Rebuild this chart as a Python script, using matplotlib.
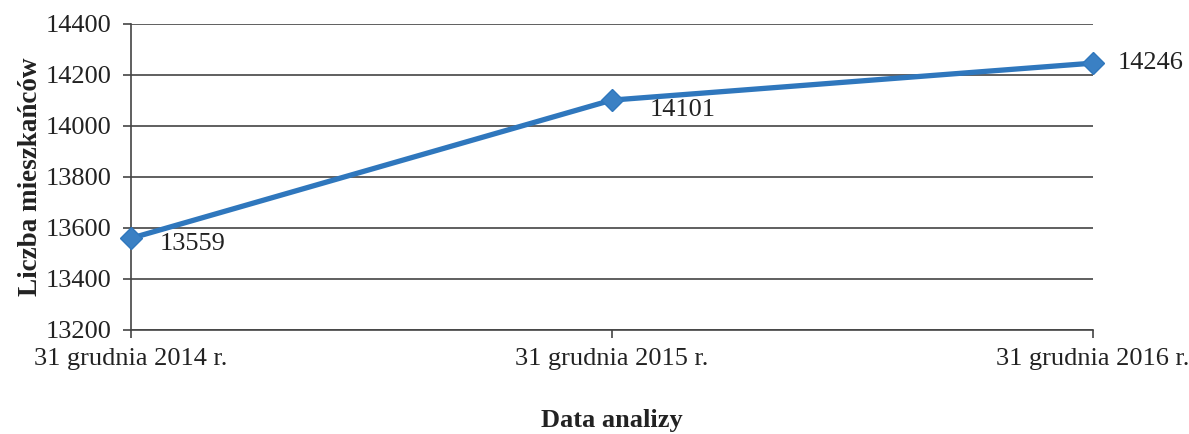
import matplotlib.pyplot as plt

dates = ["31 grudnia 2014 r.", "31 grudnia 2015 r.", "31 grudnia 2016 r."]
residents = [13559, 14101, 14246]
y_ticks = [13200, 13400, 13600, 13800, 14000, 14200, 14400]

plt.rcParams['font.family'] = ['Liberation Serif', 'DejaVu Serif']

fig = plt.figure(figsize=(11.89, 4.34), dpi=100)
ax = fig.add_axes([0.110, 0.240, 0.809, 0.705])

x = list(range(len(dates)))
ax.plot(x, residents, color="#2f77bd", linewidth=3.8, marker="D",
        markersize=11, markerfacecolor="#3a80c4", markeredgecolor="#2f77bd",
        zorder=3, clip_on=False)

# label offsets in points (right of the point, a bit below)
offsets = [(21, -4), (27, -7), (18, 0)]
for xi, v, off in zip(x, residents, offsets):
    ax.annotate(str(v), (xi, v), xytext=off, textcoords="offset points",
                ha="left", va="center", fontsize=19, color="#222222")

ax.set_xlim(0, 2)
ax.set_ylim(13200, 14400)
ax.set_yticks(y_ticks)
ax.set_xticks(x)
ax.set_xticklabels(dates)
ax.yaxis.grid(True, color="#444444", linewidth=1.2)
ax.set_axisbelow(True)

for s in ["top", "right"]:
    ax.spines[s].set_visible(False)
ax.spines["left"].set_color("#444444")
ax.spines["bottom"].set_color("#444444")
ax.spines["left"].set_linewidth(1.2)
ax.spines["bottom"].set_linewidth(1.2)

ax.tick_params(axis="both", labelsize=19, colors="#444444", labelcolor="#222222",
               length=6, width=1.2)
ax.tick_params(axis="y", pad=8)
ax.tick_params(axis="x", pad=7)

ax.set_ylabel("Liczba mieszkańców", fontsize=19.5, fontweight="bold", color="#222222", labelpad=2)
ax.set_xlabel("Data analizy", fontsize=19, fontweight="bold", color="#222222", labelpad=28)

fig.savefig("out.png", dpi=100)
